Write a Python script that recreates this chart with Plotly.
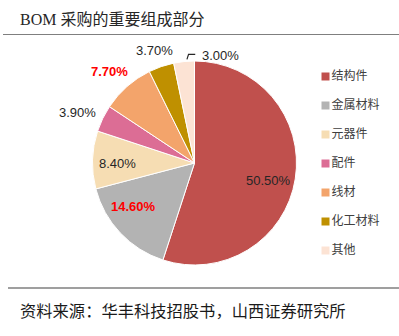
import math
import plotly.graph_objects as go

# BOM purchase composition (%)
categories = ["结构件", "金属材料", "元器件", "配件", "线材", "化工材料", "其他"]
shares = [50.5, 14.6, 8.4, 3.9, 7.7, 3.7, 3.0]
colors = ["#C0504D", "#B3B3B3", "#F6DDB3", "#DC6D95", "#F3A46B", "#BF9000", "#FCE3D4"]
highlight = [False, True, False, False, True, False, False]

title_text = "BOM 采购的重要组成部分"
source_text = "资料来源：华丰科技招股书，山西证券研究所"

W, H = 399, 336

# pie frame in pixels
PX0, PX1, PY0, PY1 = 92, 297, 61, 265
CX, CY = (PX0 + PX1) / 2, (PY0 + PY1) / 2
R = min(PX1 - PX0, PY1 - PY0) / 2

# label placement: (radius factor, xanchor, yanchor, xshift, yshift)
label_style = [
    (0.74, "center", "middle", -1, -6),
    (0.74, "center", "middle", -5.6, 7.8),
    (0.74, "center", "middle", -1.5, -2.4),
    (1.0, "right", "middle", -6, 6.4),
    (1.0, "right", "bottom", 1.6, 6.5),
    (1.0, "center", "bottom", -6.6, 7.2),
    (1.0, "left", "middle", 16.9, 6.5),
]


def px(x):
    return x / W


def py(y):
    return 1 - y / H


fig = go.Figure()

fig.add_trace(go.Pie(
    labels=categories,
    values=shares,
    sort=False,
    direction="clockwise",
    rotation=0,
    marker=dict(colors=colors, line=dict(color="white", width=1)),
    textinfo="none",
    showlegend=False,
    hoverinfo="skip",
    domain=dict(x=[px(PX0), px(PX1)], y=[py(PY1), py(PY0)]),
))

# Value labels placed at each slice's mid angle
total = sum(shares)
annotations = []
shapes = []
cum = 0.0
for i, v in enumerate(shares):
    mid = (cum + v / 2) / total * 2 * math.pi
    cum += v
    k, xa, ya, dx, dy = label_style[i]
    x = CX + k * R * math.sin(mid)
    y = CY - k * R * math.cos(mid)
    txt = f"{v:.2f}%"
    if highlight[i]:
        txt = f"<b>{txt}</b>"
    annotations.append(dict(
        text=txt, xref="paper", yref="paper", x=px(x), y=py(y),
        xanchor=xa, yanchor=ya, xshift=dx, yshift=dy, showarrow=False,
        borderpad=0,
        font=dict(size=13, color="#FF0000" if highlight[i] else "#262626",
                  family="Liberation Sans, Arial"),
    ))
    if i == len(shares) - 1:
        # elbow leader line for the smallest slice
        p0 = (x + 2.9, y - 2.2)
        p1 = (x + 4.5, y - 7.2)
        p2 = (x + 11.2, y - 7.2)
        shapes.append(dict(
            type="path", xref="paper", yref="paper",
            path=f"M {px(p0[0])},{py(p0[1])} L {px(p1[0])},{py(p1[1])} L {px(p2[0])},{py(p2[1])}",
            line=dict(color="#262626", width=1.2),
        ))

# Legend drawn as a marker column on a hidden categorical axis
fig.add_trace(go.Scatter(
    x=[0] * len(categories),
    y=categories,
    mode="markers+text",
    marker=dict(symbol="square", size=8, color=colors),
    text=categories,
    textposition="middle right",
    textfont=dict(size=12, color="#404040", family="Noto Sans CJK SC"),
    cliponaxis=False,
    showlegend=False,
    hoverinfo="skip",
))

shapes += [
    dict(type="line", xref="paper", yref="paper", x0=px(3), x1=1, y0=py(34.5), y1=py(34.5),
         line=dict(color="#7F7F7F", width=1.2)),
    dict(type="line", xref="paper", yref="paper", x0=px(8), x1=1, y0=py(288), y1=py(288),
         line=dict(color="#404040", width=1.2)),
]

annotations += [
    dict(text=title_text, xref="paper", yref="paper", x=px(18), y=py(19),
         xanchor="left", yanchor="middle", showarrow=False,
         font=dict(size=16, color="#262626", family="Liberation Serif, Noto Sans CJK SC")),
    dict(text=source_text, xref="paper", yref="paper", x=px(18), y=py(310),
         xanchor="left", yanchor="middle", showarrow=False,
         font=dict(size=16.3, color="#1A1A1A", family="Noto Sans CJK SC")),
]

fig.update_layout(
    width=W, height=H,
    margin=dict(l=0, r=0, t=0, b=0),
    paper_bgcolor="white",
    plot_bgcolor="rgba(0,0,0,0)",
    xaxis=dict(visible=False, domain=[325.5 / W, 1.0], range=[0, 1], fixedrange=True),
    yaxis=dict(visible=False, type="category", categoryorder="array",
               categoryarray=categories, range=[6.5, -0.5],
               domain=[py(265), py(62)], fixedrange=True),
    shapes=shapes,
    annotations=annotations,
)

fig.write_html("out.html")
